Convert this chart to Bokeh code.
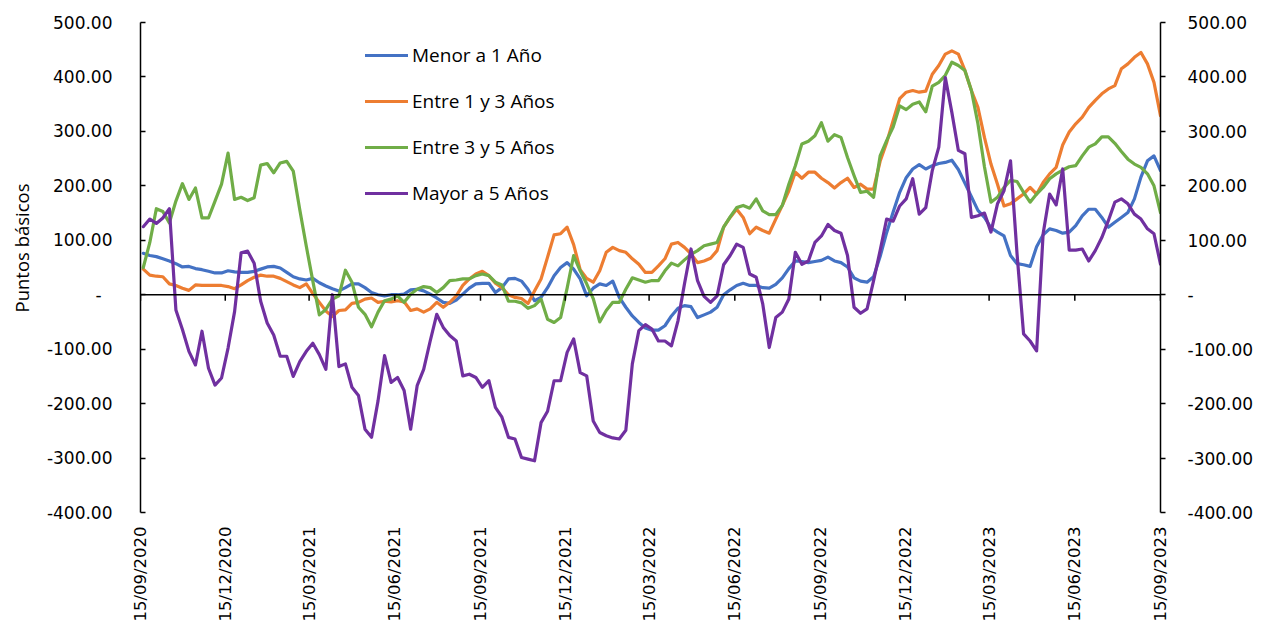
import math
import pandas as pd
from bokeh.plotting import figure
from bokeh.models import (Range1d, FixedTicker, LinearAxis, Span, Legend, LegendItem,
                          Title, ColumnDataSource, DatetimeTickFormatter, CustomJSTickFormatter)
from bokeh.embed import file_html
from bokeh.resources import INLINE

# ---------------- data (weekly, Fridays) ----------------
DATES = pd.date_range("2020-09-18", periods=157, freq="7D")

MENOR_1 = [76, 72, 70, 66, 62, 57, 51, 52, 48, 46,
           43, 40, 40, 44, 42, 41, 41, 43, 47, 51,
           52, 49, 41, 33, 29, 27, 30, 22, 16, 11,
           7, 13, 20, 20, 13, 4, 0, -2, 0, 0,
           1, 9, 10, 7, 1, -6, -14, -16, -10, 1,
           12, 20, 21, 21, 4, 13, 29, 30, 25, 10,
           -11, -5, 13, 35, 50, 59, 47, 29, -2, 12,
           20, 17, 25, -5, -23, -39, -51, -61, -65, -65,
           -57, -39, -25, -20, -22, -42, -37, -32, -23, 0,
           9, 17, 21, 17, 17, 13, 12, 19, 31, 48,
           62, 61, 59, 61, 63, 69, 62, 59, 51, 31,
           25, 23, 33, 70, 114, 152, 188, 215, 231, 239,
           231, 237, 241, 243, 247, 230, 205, 180, 155, 142,
           123, 115, 108, 72, 57, 55, 52, 88, 110, 121,
           118, 113, 115, 127, 145, 157, 157, 142, 124, 133,
           142, 151, 176, 216, 246, 255, 228]

ENTRE_1_3 = [47, 36, 34, 33, 20, 17, 12, 8, 18, 17,
             17, 17, 17, 15, 11, 18, 26, 32, 36, 34,
             34, 30, 24, 18, 13, 20, 2, -14, -30, -40,
             -29, -28, -16, -14, -8, -6, -14, -12, -13, -11,
             -13, -29, -26, -32, -26, -14, -23, -14, -2, 17,
             29, 38, 43, 35, 21, 13, 0, -5, -7, -16,
             7, 29, 69, 110, 112, 124, 92, 46, 30, 23,
             44, 78, 87, 81, 78, 66, 56, 41, 41, 53,
             66, 93, 96, 87, 75, 59, 62, 67, 81, 124,
             142, 157, 142, 112, 124, 118, 113, 139, 164, 191,
             225, 214, 225, 225, 214, 206, 196, 206, 214, 197,
             203, 194, 194, 245, 279, 320, 360, 372, 375, 372,
             374, 405, 421, 442, 448, 442, 412, 375, 344, 289,
             240, 203, 163, 167, 176, 185, 197, 185, 206, 222,
             234, 275, 299, 314, 326, 344, 357, 369, 378, 384,
             415, 424, 436, 445, 424, 390, 329]

ENTRE_3_5 = [50, 96, 158, 153, 132, 172, 204, 175, 196, 141,
             141, 172, 203, 260, 175, 179, 173, 178, 238, 241,
             224, 242, 245, 227, 156, 89, 25, -37, -27, -8,
             -2, 45, 23, -23, -36, -59, -32, -11, -8, -2,
             -14, 1, 10, 15, 13, 4, 13, 26, 27, 29,
             29, 35, 38, 35, 23, 18, -12, -12, -15, -25,
             -20, -8, -45, -51, -42, 12, 72, 44, 20, -7,
             -50, -29, -14, -14, 10, 31, 27, 23, 26, 26,
             44, 58, 53, 64, 74, 81, 90, 93, 96, 124,
             143, 160, 164, 159, 176, 154, 147, 147, 164, 203,
             237, 277, 282, 292, 316, 282, 294, 289, 252, 219,
             188, 190, 179, 255, 283, 308, 347, 340, 350, 354,
             336, 383, 390, 403, 427, 421, 412, 375, 314, 235,
             170, 179, 197, 210, 208, 188, 170, 185, 197, 213,
             222, 229, 235, 237, 255, 271, 277, 290, 290, 278,
             263, 249, 240, 234, 222, 200, 151]

MAYOR_5 = [125, 139, 131, 141, 158, -28, -64, -104, -129, -67,
           -135, -166, -153, -98, -31, 77, 80, 58, -12, -52,
           -74, -113, -113, -150, -123, -104, -89, -110, -137, 0,
           -132, -127, -170, -185, -247, -262, -195, -112, -161, -152,
           -176, -247, -167, -137, -85, -36, -60, -75, -85, -149,
           -146, -152, -170, -158, -207, -225, -262, -265, -299, -302,
           -305, -235, -214, -158, -158, -106, -81, -143, -149, -232,
           -253, -259, -263, -265, -249, -127, -66, -55, -63, -85,
           -85, -94, -48, 20, 84, 26, -3, -14, -2, 55,
           72, 93, 87, 38, 32, -17, -97, -42, -32, -8,
           78, 56, 62, 96, 108, 129, 118, 113, 72, -23,
           -34, -26, 26, 81, 139, 135, 163, 176, 213, 148,
           160, 228, 271, 399, 335, 265, 259, 142, 145, 150,
           115, 167, 191, 246, 75, -72, -85, -103, 112, 185,
           165, 231, 82, 82, 84, 62, 81, 105, 136, 170,
           176, 167, 148, 139, 121, 112, 56]

SERIES_NAMES = ["Menor a 1 Año", "Entre 1 y 3 Años", "Entre 3 y 5 Años", "Mayor a 5 Años"]
SERIES_COLORS = ["#4472C4", "#ED7D31", "#70AD47", "#7030A0"]

TICK_LABELS = ["15/09/2020", "15/12/2020", "15/03/2021", "15/06/2021", "15/09/2021",
               "15/12/2021", "15/03/2022", "15/06/2022", "15/09/2022", "15/12/2022",
               "15/03/2023", "15/06/2023", "15/09/2023"]
Y_TICKS = [-400, -300, -200, -100, 0, 100, 200, 300, 400, 500]
Y_TITLE = "Puntos básicos"

# ---------------- figure ----------------
tick_dates = pd.to_datetime(TICK_LABELS, format="%d/%m/%Y")
tick_ms = [float(t.value // 10**6) for t in tick_dates]

W, H = 1262, 625
ML, MR, MT, MB = 136, 102, 22, 113
FRAME_H = H - MT - MB

p = figure(width=W, height=H, x_axis_type="datetime",
           x_range=Range1d(tick_dates[0], tick_dates[-1]),
           y_range=Range1d(Y_TICKS[0], Y_TICKS[-1]),
           output_backend="svg", toolbar_location=None,
           min_border_left=ML, min_border_right=MR, min_border_top=MT, min_border_bottom=MB)
p.outline_line_color = None
p.grid.visible = False
p.background_fill_color = "white"
p.border_fill_color = "white"

src = ColumnDataSource(dict(date=DATES, s0=MENOR_1, s1=ENTRE_1_3, s2=ENTRE_3_5, s3=MAYOR_5))

renderers = []
for i, (name, col) in enumerate(zip(SERIES_NAMES, SERIES_COLORS)):
    r = p.line(x="date", y=f"s{i}", source=src, line_color=col, line_width=3.2,
               line_join="round", line_cap="round")
    renderers.append(r)

# zero line with quarter tick marks pointing down
p.add_layout(Span(location=0, dimension="width", line_color="#000000", line_width=1.5))
tick_len_units = 6 * (Y_TICKS[-1] - Y_TICKS[0]) / FRAME_H
p.segment(x0=list(tick_dates), y0=[0] * len(tick_dates), x1=list(tick_dates),
          y1=[-tick_len_units] * len(tick_dates), line_color="#000000", line_width=1.5)

# bottom axis: labels only
xa = p.xaxis[0]
xa.ticker = FixedTicker(ticks=tick_ms)
fmt = "%d/%m/%Y"
xa.formatter = DatetimeTickFormatter(microseconds=fmt, milliseconds=fmt, seconds=fmt, minsec=fmt,
                                     minutes=fmt, hourmin=fmt, hours=fmt, days=fmt,
                                     months=fmt, years=fmt)
xa.axis_line_color = None
xa.major_tick_line_color = None
xa.minor_tick_line_color = None
xa.major_label_orientation = math.pi / 2
xa.major_label_standoff = 8
xa.major_label_text_font = "DejaVu Sans"
xa.major_label_text_font_size = "16.5px"
xa.major_label_text_color = "#000000"

yfmt_left = CustomJSTickFormatter(code="return tick == 0 ? '-\\u00a0\\u00a0' : tick.toFixed(2);")
yfmt_right = CustomJSTickFormatter(code="return tick == 0 ? '-' : tick.toFixed(2);")

ya = p.yaxis[0]
ya.ticker = FixedTicker(ticks=Y_TICKS)
ya.formatter = yfmt_left
ya.axis_line_color = "#000000"
ya.axis_line_width = 1.5
ya.major_tick_line_color = "#000000"
ya.major_tick_line_width = 1.5
ya.major_tick_in = 5
ya.major_tick_out = 0
ya.minor_tick_line_color = None
ya.major_label_standoff = 28
ya.major_label_text_font = "DejaVu Sans"
ya.major_label_text_font_size = "17px"
ya.major_label_text_color = "#000000"

yr = LinearAxis(ticker=FixedTicker(ticks=Y_TICKS), formatter=yfmt_right)
yr.axis_line_color = "#000000"
yr.axis_line_width = 1.5
yr.major_tick_line_color = "#000000"
yr.major_tick_line_width = 1.5
yr.major_tick_in = 0
yr.major_tick_out = 5
yr.minor_tick_line_color = None
yr.major_label_standoff = 22
yr.major_label_text_font = "DejaVu Sans"
yr.major_label_text_font_size = "17px"
yr.major_label_text_color = "#000000"
p.add_layout(yr, "right")

# y-axis title (left side, shifted upward like the reference)
p.add_layout(Title(text=Y_TITLE, align="left", offset=200, standoff=16, vertical_align="top",
                   text_font="Open Sans", text_font_size="18.5px",
                   text_font_style="normal", text_color="#000000"), "left")

legend = Legend(items=[LegendItem(label=n, renderers=[r]) for n, r in zip(SERIES_NAMES, renderers)],
                location=(225, 306), orientation="vertical",
                border_line_color=None, background_fill_alpha=0,
                padding=0, margin=0, spacing=20,
                glyph_width=43, glyph_height=20, label_height=20, label_standoff=4,
                label_text_font="Open Sans", label_text_font_size="19px",
                label_text_color="#000000")
p.add_layout(legend)

open("out.html", "w").write(file_html(p, INLINE))
